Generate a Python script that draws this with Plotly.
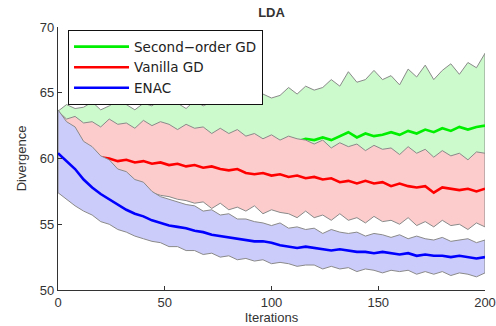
import plotly.graph_objects as go

iterations = list(range(0, 201, 4))

green_upper = [63.6, 64.1, 63.8, 63.9, 64.3, 63.7, 64.0, 64.4, 64.1, 63.7,
               64.2, 64.0, 64.5, 64.1, 64.2, 63.8, 64.4, 64.0, 64.3, 64.6,
               64.1, 64.3, 64.8, 64.2, 64.9, 64.6, 64.8, 65.4, 64.9, 65.5,
               65.2, 65.4, 66.0, 65.5, 66.6, 65.8, 66.0, 66.7, 66.0, 66.3,
               65.6, 66.8, 66.2, 67.1, 66.0, 66.7, 67.2, 66.4, 67.3, 66.9, 68.0]
green_mean = [62.8, 62.5, 62.3, 62.1, 62.0, 61.9, 61.8, 61.8, 61.7, 61.6,
              61.6, 61.5, 61.5, 61.4, 61.4, 61.3, 61.3, 61.3, 61.2, 61.2,
              61.2, 61.1, 61.1, 61.1, 61.1, 61.1, 61.2, 61.2, 61.3, 61.5,
              61.4, 61.6, 61.4, 61.7, 62.0, 61.6, 61.9, 61.7, 61.8, 62.0,
              61.8, 62.1, 61.9, 62.2, 62.0, 62.3, 62.1, 62.4, 62.2, 62.4, 62.5]
green_lower = [63.6, 61.2, 60.8, 60.5, 60.3, 60.1, 60.0, 59.9, 59.8, 59.7,
               59.6, 59.6, 59.5, 59.4, 59.4, 59.3, 59.3, 59.2, 59.2, 59.1,
               59.1, 59.0, 59.0, 59.0, 58.9, 58.9, 58.9, 58.9, 59.0, 59.1,
               59.0, 59.2, 59.1, 59.2, 59.3, 59.2, 59.3, 59.4, 59.3, 59.4,
               59.5, 59.4, 59.5, 59.6, 59.5, 59.6, 59.7, 59.6, 59.7, 59.8, 59.8]

red_upper = [63.6, 63.0, 63.2, 62.7, 62.8, 62.4, 63.0, 62.6, 62.7, 62.3,
             62.9, 62.5, 62.8, 62.6, 62.2, 62.6, 62.3, 62.4, 61.9, 62.3,
             61.9, 62.2, 61.7, 61.9, 61.5, 61.8, 61.4, 61.7, 61.5, 61.4,
             61.1, 61.4, 60.8, 61.2, 60.9, 61.1, 60.6, 61.0, 60.7, 60.8,
             60.3, 60.9, 60.4, 60.7, 60.1, 60.6, 60.2, 60.4, 59.9, 60.5, 60.4]
red_mean = [61.9, 61.5, 61.2, 60.9, 60.6, 60.1, 60.0, 59.8, 59.9, 59.7,
            59.8, 59.6, 59.7, 59.5, 59.6, 59.4, 59.5, 59.3, 59.4, 59.2,
            59.1, 59.2, 58.9, 58.8, 58.9, 58.7, 58.8, 58.6, 58.7, 58.5,
            58.6, 58.4, 58.5, 58.2, 58.3, 58.1, 58.3, 58.1, 58.2, 57.9,
            58.1, 57.9, 57.8, 57.9, 57.4, 57.8, 57.7, 57.6, 57.7, 57.5, 57.7]
red_lower = [60.8, 60.2, 59.7, 59.3, 58.9, 58.6, 58.4, 58.1, 57.9, 57.7,
             57.5, 57.4, 57.2, 57.1, 56.9, 56.8, 56.6, 56.7, 56.2, 56.6,
             56.1, 56.3, 56.0, 56.4, 55.8, 56.1, 55.9, 55.8, 55.5, 56.0,
             55.5, 55.7, 55.3, 55.8, 55.3, 55.5, 55.1, 55.6, 55.2, 55.3,
             55.0, 55.5, 54.9, 55.2, 54.8, 55.3, 54.9, 55.0, 54.6, 55.1, 54.8]

blue_upper = [63.7, 62.8, 62.4, 61.3, 60.9, 60.2, 59.9, 59.2, 59.0, 58.4,
              58.2, 57.5, 57.1, 56.9, 56.7, 56.5, 56.4, 56.0, 56.1, 55.7,
              55.8, 55.4, 55.4, 55.2, 55.1, 54.9, 55.1, 54.7, 54.8, 54.6,
              54.7, 54.3, 54.6, 54.4, 54.3, 54.4, 54.1, 54.3, 54.2, 54.0,
              54.2, 53.9, 54.1, 53.9, 53.8, 54.0, 53.7, 53.8, 53.9, 53.6, 53.8]
blue_mean = [60.4, 59.8, 59.2, 58.4, 57.8, 57.3, 56.9, 56.5, 56.1, 55.8,
             55.6, 55.3, 55.1, 54.9, 54.8, 54.7, 54.5, 54.4, 54.2, 54.1,
             54.0, 53.9, 53.8, 53.7, 53.7, 53.6, 53.4, 53.3, 53.2, 53.3,
             53.2, 53.1, 53.0, 53.1, 53.0, 52.9, 52.9, 52.8, 52.9, 52.8,
             52.7, 52.8, 52.6, 52.7, 52.6, 52.6, 52.5, 52.6, 52.5, 52.4, 52.5]
blue_lower = [57.4, 56.9, 56.4, 56.0, 55.7, 55.2, 55.0, 54.6, 54.4, 54.1,
              53.9, 53.7, 53.6, 53.3, 53.3, 53.0, 53.0, 52.7, 52.8, 52.5,
              52.6, 52.3, 52.4, 52.2, 52.3, 52.0, 52.1, 52.0, 51.8, 51.9,
              51.9, 51.6, 51.8, 51.6, 51.7, 51.4, 51.6, 51.5, 51.3, 51.5,
              51.4, 51.5, 51.2, 51.4, 51.2, 51.4, 51.1, 51.3, 51.2, 51.0, 51.3]

series = [
    ("Second\u2212order GD", green_upper, green_mean, green_lower, "#00ee00", "rgb(204,250,204)"),
    ("Vanilla GD", red_upper, red_mean, red_lower, "#ff0000", "rgb(252,204,204)"),
    ("ENAC", blue_upper, blue_mean, blue_lower, "#0000ff", "rgb(204,204,250)"),
]

for s in series:
    for arr in s[1:4]:
        assert len(arr) == len(iterations), (s[0], len(arr))

FONT = "Liberation Sans, Arial, Helvetica, sans-serif"
LFONT = "DejaVu Sans, Liberation Sans, Arial, sans-serif"
fig = go.Figure()
for name, up, mean, lo, col, fillcol in series:
    px = iterations + iterations[::-1] + [iterations[0]]
    py = up + lo[::-1] + [up[0]]
    fig.add_trace(go.Scatter(x=px, y=py, mode="lines", fill="toself",
                             fillcolor=fillcol,
                             line=dict(color="#8a8a8a", width=1),
                             showlegend=False, hoverinfo="skip"))
    fig.add_trace(go.Scatter(x=iterations, y=mean, mode="lines", name=name,
                             line=dict(color=col, width=2.6)))

fig.update_layout(
    width=496, height=326,
    margin=dict(l=58, r=11, t=27, b=36),
    paper_bgcolor="white", plot_bgcolor="white",
    font=dict(family=FONT, size=13, color="#333333"),
    title=dict(text="<b>LDA</b>", x=0.5, xref="paper", xanchor="center",
               y=0.962, yref="container", yanchor="middle",
               font=dict(family=FONT, size=13, color="#333333")),
    legend=dict(x=0.023, y=0.988, xanchor="left", yanchor="top",
                bgcolor="white", bordercolor="#111111", borderwidth=1.2,
                font=dict(family=LFONT, size=13.5, color="#222222"),
                itemwidth=55, tracegroupgap=0),
    showlegend=True,
)
fig.update_xaxes(range=[0, 200], tickvals=[0, 50, 100, 150, 200],
                 showgrid=False, zeroline=False, showline=True,
                 linecolor="#333333", linewidth=1.2, ticks="inside",
                 ticklen=4, tickcolor="#333333",
                 tickfont=dict(family=FONT, size=13, color="#333333"),
                 title=dict(text="Iterations", standoff=4,
                            font=dict(family=FONT, size=13, color="#333333")),
                 automargin=False)
fig.update_yaxes(range=[50, 70], tickvals=[50, 55, 60, 65, 70],
                 showgrid=False, zeroline=False, showline=True,
                 linecolor="#333333", linewidth=1.2, ticks="inside",
                 ticklen=4, tickcolor="#333333",
                 tickfont=dict(family=FONT, size=13, color="#333333"),
                 title=dict(text="Divergence", standoff=10,
                            font=dict(family=FONT, size=13, color="#333333")),
                 automargin=False)

fig.write_html("out.html")
